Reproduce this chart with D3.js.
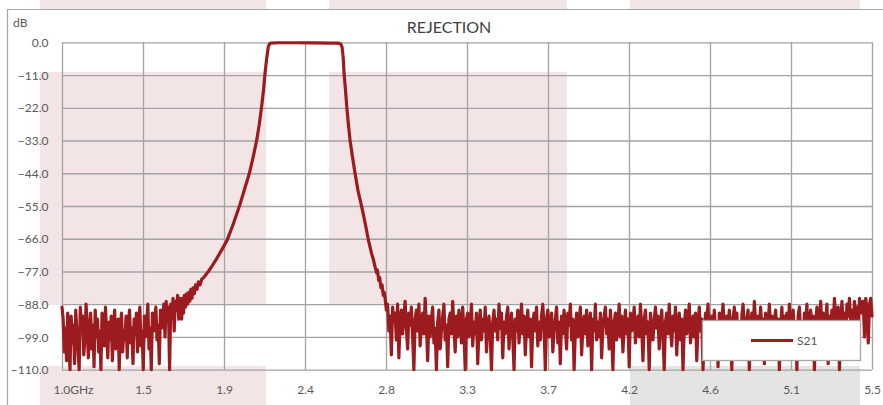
<!DOCTYPE html>
<html><head><meta charset="utf-8">
<script src="https://cdn.jsdelivr.net/npm/d3@7"></script>
<style>
body{margin:0;background:#fff}
svg{display:block}
text{font-family:Lato,"Open Sans","Noto Sans",sans-serif}
</style>
</head><body><svg id="c" width="883" height="405"></svg>
<script>
// ---- data ----
const chartTitle = "REJECTION";
const yUnit = "dB";
const xUnit = "GHz";
const seriesName = "S21";
const xTickValues = [1.0, 1.45, 1.9, 2.35, 2.8, 3.25, 3.7, 4.15, 4.6, 5.05, 5.5];
const xTickLabels = ["1.0", "1.5", "1.9", "2.4", "2.8", "3.3", "3.7", "4.2", "4.6", "5.1", "5.5"];
const yTickValues = [0, -11, -22, -33, -44, -55, -66, -77, -88, -99, -110];

// noise floor below the passband (evenly spaced from 1.0 to 1.655 GHz)
const noiseLowRange = [1.0, 1.655];
const noiseLowDb = [
 -89,-93,-104,-96,-107,-91,-99,-110,-92,-101,
 -95,-108,-90,-97,-103,-110,-89,-96,-92,-105,
 -100,-88,-94,-106,-98,-91,-103,-95,-109,-90,
 -99,-93,-104,-97,-110,-91,-95,-102,-89,-98,
 -106,-94,-100,-92,-107,-96,-90,-103,-99,-93,
 -110,-95,-91,-104,-97,-100,-92,-106,-94,-90,
 -101,-96,-108,-93,-98,-91,-104,-95,-89,-102,
 -97,-110,-92,-99,-94,-88,-103,-96,-110,-91,
 -97,-93,-89,-100,-95,-108,-90,-96,-92,-88,
 -99,-87,-94,-89,-110,-88,-92,-86,-97,-87,-90,-85,-93,-86
];

// filter skirts and passband
const curveFreq = [1.660,1.665,1.670,1.675,1.680,1.686,1.692,1.698,1.704,1.710,1.716,1.722,1.728,1.735,1.742,1.750,1.758,1.767,1.777,1.788,1.800,1.813,1.830,1.856,1.885,1.918,1.950,1.985,2.012,2.041,2.062,2.082,2.096,2.109,2.120,2.128,2.138,2.146,2.152,2.160,2.200,2.300,2.400,2.500,2.535,2.549,2.556,2.562,2.567,2.575,2.582,2.590,2.600,2.614,2.628,2.645,2.665,2.685,2.702,2.720,2.730,2.739,2.748,2.752,2.760,2.765,2.772,2.778,2.785,2.790];
const curveDb   = [-88,-93,-86,-91,-85,-89,-84.5,-88,-84,-87,-83,-86,-82.5,-84.5,-81.5,-83,-80.5,-81.5,-79.5,-79,-78,-77,-75.5,-73,-70,-66.4,-61.3,-55.2,-49.8,-44,-38.6,-32.8,-27.5,-21.6,-15.8,-10.4,-5,-1.6,-0.6,-0.25,-0.15,-0.15,-0.2,-0.25,-0.3,-0.6,-1.6,-5,-10.4,-16,-21.6,-27,-32.8,-38.5,-44,-50,-55.2,-61,-66.4,-71,-73,-75.4,-77.5,-76.5,-80,-79,-82.5,-81.5,-85,-84];

// noise floor above the passband (evenly spaced from 2.795 to 5.5 GHz)
const noiseHighRange = [2.795, 5.5];
const noiseHighDb = [
 -86,-90,-88,-97,-92,-105,-89,-94,-91,-100,
 -88,-106,-93,-90,-98,-92,-87,-96,-103,-91,
 -95,-89,-99,-110,-93,-90,-97,-88,-102,-94,
 -91,-98,-86,-95,-107,-92,-99,-93,-89,-101,
 -96,-110,-94,-90,-103,-97,-92,-88,-100,-95,
 -109,-93,-91,-98,-87,-96,-104,-92,-99,-90,
 -94,-101,-89,-97,-110,-93,-91,-99,-95,-88,
 -102,-94,-98,-91,-108,-96,-90,-100,-93,-97,
 -89,-104,-95,-92,-99,-110,-94,-90,-97,-93,
 -100,-88,-96,-91,-106,-94,-98,-92,-89,-103,
 -95,-91,-99,-110,-93,-97,-90,-101,-94,-88,
 -98,-92,-105,-96,-90,-99,-93,-109,-95,-91,
 -97,-89,-102,-94,-100,-92,-88,-96,-110,-93,
 -90,-99,-95,-91,-104,-97,-93,-89,-101,-94,
 -108,-92,-98,-90,-96,-103,-91,-95,-88,-100,
 -93,-110,-97,-91,-99,-94,-89,-105,-96,-92,
 -98,-90,-102,-95,-91,-110,-93,-97,-88,-100,
 -94,-99,-91,-106,-96,-92,-89,-98,-93,-103,
 -90,-97,-110,-94,-91,-100,-95,-88,-99,-92,
 -104,-96,-90,-98,-93,-109,-91,-97,-94,-89,
 -101,-95,-92,-99,-88,-96,-107,-93,-90,-98,
 -94,-110,-91,-97,-100,-93,-89,-96,-92,-103,
 -95,-90,-99,-110,-94,-91,-98,-88,-96,-102,
 -92,-97,-89,-105,-95,-91,-100,-93,-110,-96,
 -90,-98,-94,-88,-101,-96,-92,-99,-91,-107,
 -95,-89,-97,-93,-110,-98,-91,-94,-88,-100,
 -96,-92,-103,-90,-97,-94,-109,-91,-99,-93,
 -88,-96,-101,-92,-98,-90,-95,-110,-93,-89,
 -97,-91,-100,-94,-106,-92,-88,-96,-99,-93,
 -90,-110,-95,-91,-98,-87,-94,-102,-92,-97,
 -89,-96,-93,-108,-91,-99,-95,-88,-97,-92,
 -104,-94,-90,-98,-93,-110,-96,-89,-100,-92,
 -95,-91,-97,-88,-103,-94,-90,-99,-96,-110,
 -92,-89,-98,-94,-101,-91,-96,-88,-105,-93,
 -90,-97,-92,-110,-95,-89,-99,-93,-87,-96,
 -91,-100,-94,-88,-108,-92,-97,-90,-95,-86,
 -93,-98,-89,-110,-94,-87,-96,-91,-99,-88,
 -92,-86,-95,-90,-101,-87,-93,-89,-98,-86,
 -88,-91,-87,-99,-86,-90,-101,-88,-86,-92
];

// ---- build series ----
function spread(range, vals){
  const n = vals.length;
  return vals.map((v,i)=>({f: range[0] + (range[1]-range[0]) * i/(n-1), db: v}));
}
const series = [].concat(
  spread(noiseLowRange, noiseLowDb),
  curveFreq.map((f,i)=>({f, db: curveDb[i]})),
  spread(noiseHighRange, noiseHighDb)
);

// ---- drawing ----
const svg = d3.select("#c");
const W = 883, H = 405;
const plot = {l: 62, r: 872, t: 42.3, b: 369.7};
const x = d3.scaleLinear().domain([xTickValues[0], xTickValues[xTickValues.length-1]]).range([plot.l, plot.r]);
const y = d3.scaleLinear().domain([-110, 0]).range([plot.b, plot.t]);

const gridColor = "#a3a3a3";
const textColor = "#595959";
const lineColor = "#9b1b1f";
const pink = "#f3e5e5";

svg.append("rect").attr("width", W).attr("height", H).attr("fill", "#fff");

// background decoration bands
const bands = [
  {x0: 40, x1: 266, y0: 0, y1: 9, c: pink},
  {x0: 40, x1: 266, y0: 72, y1: 305, c: pink},
  {x0: 40, x1: 266, y0: 366, y1: 405, c: pink},
  {x0: 329, x1: 567, y0: 0, y1: 9, c: pink},
  {x0: 329, x1: 567, y0: 72, y1: 305, c: pink},
  {x0: 630, x1: 860, y0: 0, y1: 9, c: pink},
  {x0: 630, x1: 860, y0: 366, y1: 405, c: "#e4e4e4"}
];
svg.append("g").selectAll("rect").data(bands).join("rect")
  .attr("x", d=>d.x0).attr("y", d=>d.y0)
  .attr("width", d=>d.x1-d.x0).attr("height", d=>d.y1-d.y0)
  .attr("fill", d=>d.c);

// outer chart border
svg.append("path").attr("d", `M7.5,${H} V9.5 H${W}`)
  .attr("fill", "none").attr("stroke", "#a6a6a6").attr("stroke-width", 1.2);

// title
svg.append("text").attr("x", 449).attr("y", 26).attr("text-anchor", "middle")
  .attr("dominant-baseline", "central").attr("font-size", 16).attr("fill", "#404040")
  .text(chartTitle);

// grid
const g = svg.append("g");
g.append("g").call(d3.axisLeft(y).tickValues(yTickValues).tickSize(-(plot.r-plot.l)).tickFormat(""))
  .attr("transform", `translate(${plot.l},0)`)
  .call(s=>s.select(".domain").remove())
  .call(s=>s.selectAll("line").attr("stroke", gridColor).attr("stroke-width", 1.3));
g.append("g").call(d3.axisBottom(x).tickValues(xTickValues).tickSize(-(plot.b-plot.t)).tickFormat(""))
  .attr("transform", `translate(0,${plot.b})`)
  .call(s=>s.select(".domain").remove())
  .call(s=>s.selectAll("line").attr("stroke", gridColor).attr("stroke-width", 1.3));

// tick labels
const yl = svg.append("g").call(d3.axisLeft(y).tickValues(yTickValues).tickSize(0).tickPadding(0).tickFormat(d3.format(".1f")))
  .attr("transform", "translate(48.5,0)");
yl.select(".domain").remove();
yl.selectAll("text").attr("font-size", 12).attr("fill", textColor)
  .attr("font-family", 'Lato,"Open Sans",sans-serif').attr("dy", "0.35em").attr("y", 0);

const xl = svg.append("g").call(d3.axisBottom(x).tickValues(xTickValues).tickSize(0).tickPadding(0)
    .tickFormat((d,i)=>xTickLabels[i] + (i === 0 ? xUnit : "")))
  .attr("transform", "translate(0,390)");
xl.select(".domain").remove();
xl.selectAll("text").attr("font-size", 12).attr("fill", textColor)
  .attr("font-family", 'Lato,"Open Sans",sans-serif').attr("dy", "0.35em").attr("y", 0);

// first tick label carries the unit ("1.0GHz"), starting just left of its tick
xl.selectAll("text").filter((d,i)=>i===0)
  .attr("text-anchor", "start").attr("x", -9);

svg.append("text").attr("x", 13).attr("y", 23).attr("dy", "0.35em")
  .attr("font-size", 12).attr("fill", textColor).text(yUnit);

// series line
const line = d3.line().x(d=>x(d.f)).y(d=>y(d.db));
svg.append("path").datum(series).attr("d", line)
  .attr("fill", "none").attr("stroke", lineColor).attr("stroke-width", 3.2)
  .attr("stroke-linejoin", "round").attr("stroke-linecap", "round");

// legend
const lg = svg.append("g").attr("transform", "translate(702,320)");
lg.append("rect").attr("x", 0.5).attr("y", 0.5).attr("width", 158).attr("height", 40)
  .attr("fill", "#fff").attr("stroke", "#a6a6a6").attr("stroke-width", 1.3);
lg.append("line").attr("x1", 49).attr("x2", 91).attr("y1", 20.5).attr("y2", 20.5)
  .attr("stroke", lineColor).attr("stroke-width", 3);
lg.append("text").attr("x", 95).attr("y", 20.5).attr("dy", "0.35em")
  .attr("font-size", 12).attr("fill", textColor).text(seriesName);
</script>
</body></html>
